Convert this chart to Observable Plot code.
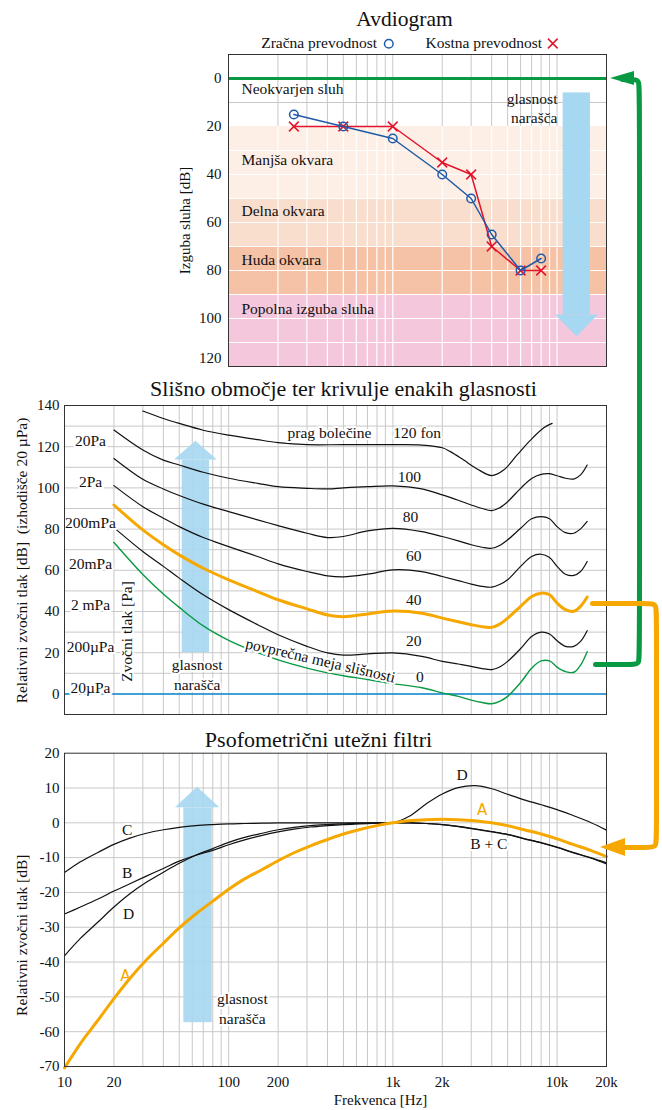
<!DOCTYPE html>
<html><head><meta charset="utf-8">
<script src="https://cdn.jsdelivr.net/npm/d3@7"></script>
<script src="https://cdn.jsdelivr.net/npm/@observablehq/plot@0.6"></script>
<style>
body{margin:0;background:#fff;}
#root{position:relative;width:662px;height:1110px;overflow:hidden;background:#fff;}
</style></head><body><div id="root"></div>
<script>
// ---------------- Audiogram data ----------------
const audioFreqs = [250, 500, 1000, 2000, 3000, 4000, 6000, 8000];
const airConduction = [15, 20, 25, 40, 50, 65, 80, 75];
const boneConduction = [20, 20, 20, 35, 40, 70, 80, 80];
const bandNames = ["Neokvarjen sluh", "Manjša okvara", "Delna okvara", "Huda okvara", "Popolna izguba sluha"];
const bandFrom = [-10, 20, 50, 70, 90];
const bandTo = [20, 50, 70, 90, 120];
const bandColors = ["#ffffff", "#fdefe6", "#f9ddcd", "#f6c2a6", "#f4c7dc"];
const bandLabelLevel = [4.3, 34, 55.4, 75.5, 96];
const audioYTicks = [0, 20, 40, 60, 80, 100];
const audioGridFreqs = [200, 300, 400, 500, 600, 700, 800, 900, 1000, 2000, 3000, 4000, 5000, 6000, 7000, 8000, 9000, 10000];

// ---------------- Equal-loudness contours ----------------
const contourFreqs = [20, 30, 40, 50, 70, 100, 150, 200, 300, 400, 500, 700, 1000, 1500, 2000, 2500, 3000, 3500, 4000, 4500, 5000, 6000, 7000, 8000, 9000, 10000, 11250, 12650, 13900, 15250];
const phon100 = [128.1, 118.4, 113.5, 111.1, 107.6, 104.7, 102.2, 100.6, 99.8, 99.5, 100, 100.6, 101, 99.5, 96.6, 94, 91.7, 90, 89, 90.5, 93.3, 99.8, 104.6, 106.6, 106.9, 105.9, 104.7, 104.3, 106.3, 111.1];
const phon80 = [114.3, 104.2, 99.5, 96.3, 92.1, 88.5, 84.5, 81.7, 78, 75.9, 76.4, 79.1, 80.4, 78.8, 76.4, 74.3, 72.4, 71.2, 70.7, 72.2, 74.8, 80.4, 85, 86.1, 85, 81.2, 78.3, 78, 80.1, 83.7];
const phon60 = [101.1, 90.9, 85.3, 81.2, 75.9, 71.5, 66.7, 63.1, 59.4, 57.3, 56.8, 58.1, 60.2, 59.4, 57, 55, 53.3, 52.2, 51.8, 53.2, 55.4, 61.9, 66.7, 67.8, 66.2, 61.9, 58.1, 57.5, 59.4, 64.3];
const phon40 = [91.7, 79.6, 72.4, 67.5, 61, 55.4, 49.7, 45.7, 41.3, 38.3, 37.5, 38.8, 40.2, 39.2, 36.8, 35, 33.6, 32.6, 32.3, 34, 36.8, 42.5, 47.3, 48.9, 48.1, 44.1, 40.9, 40.1, 42.5, 47];
const phon20 = [80.7, 69.1, 61.9, 56.2, 48.1, 40.9, 33.6, 28.7, 23.1, 19.9, 18.8, 19.4, 19.9, 18.2, 15.8, 14.5, 13.4, 12.3, 11.8, 13.2, 15.8, 22, 27.9, 30, 29.1, 25.8, 23.1, 23.1, 25.5, 30.7];
const hearingThreshold = [73.5, 58, 48.5, 42, 33, 26, 20, 16.5, 12.5, 10.2, 8.8, 7, 5, 3, 0.5, -1.2, -3, -4.2, -4.8, -3.5, -1.2, 5.5, 12.5, 16, 16, 13, 10.8, 10.5, 14, 20.5];
const painFreqs = [30, 40, 50, 70, 100, 150, 200, 300, 500, 1000, 1500, 2000, 2240, 2700, 3260, 4000, 4730, 5710, 6890, 8300, 9330];
const painThreshold = [137.3, 133.7, 131.3, 128, 125.6, 123.4, 122, 121, 121, 121, 120.8, 119.5, 117.6, 113.5, 109.2, 106, 108.7, 116, 123.2, 129.2, 131.3];
const paLabels = ["20Pa", "2Pa", "200mPa", "20mPa", "2 mPa", "200µPa", "20µPa"];
const paLevels = [120, 100, 80, 60, 40, 20, 0];
const contourLabelText = ["120 fon", "100", "80", "60", "40", "20", "0"];
const contourLabelFreq = [1406, 1262, 1280, 1340, 1340, 1340, 1459];
const contourLabelLevel = [126.5, 105.5, 86.1, 67, 45.7, 25.8, 8.1];
const middleYTicks = [0, 20, 40, 60, 80, 100, 120, 140];
const levelGridMiddle = [0, 10, 20, 30, 40, 50, 60, 70, 80, 90, 100, 110, 120, 130];
const gridFreqs = [20, 30, 40, 50, 60, 70, 80, 90, 100, 200, 300, 400, 500, 600, 700, 800, 900, 1000, 2000, 3000, 4000, 5000, 6000, 7000, 8000, 9000, 10000];

// ---------------- Weighting filters ----------------
const weightFreqs = [10, 12.5, 16, 20, 25, 31.5, 40, 50, 63, 80, 100, 125, 160, 200, 250, 315, 400, 500, 630, 800, 1000, 1250, 1600, 2000, 2500, 3150, 4000, 5000, 6300, 8000, 10000, 12500, 16000, 20000];
const weightA = [-70.4, -63.4, -56.7, -50.5, -44.7, -39.4, -34.6, -30.2, -26.2, -22.5, -19.1, -16.1, -13.4, -10.9, -8.6, -6.6, -4.8, -3.2, -1.9, -0.8, 0, 0.6, 0.9, 1.0, 0.9, 0.6, 0.0, -0.8, -2.0, -3.2, -4.6, -6.2, -7.9, -9.7];
const weightB = [-38.2, -33.2, -28.5, -24.2, -20.4, -17.1, -14.2, -11.6, -9.3, -7.4, -5.6, -4.2, -3.0, -2.0, -1.3, -0.8, -0.5, -0.3, -0.1, 0, 0, 0, -0.2, -0.5, -1.0, -1.7, -2.5, -3.3, -4.5, -5.7, -7.0, -8.5, -10.0, -11.5];
const weightC = [-14.3, -11.2, -8.5, -6.2, -4.4, -3.0, -2.0, -1.3, -0.8, -0.5, -0.3, -0.2, -0.1, 0, 0, 0, 0, 0, 0, 0, 0, 0, -0.2, -0.5, -1.1, -1.8, -2.6, -3.4, -4.6, -5.8, -7.1, -8.6, -10.1, -11.8];
const weightD = [-26.2, -24.2, -21.9, -19.6, -17.5, -15.3, -13.1, -11.0, -9.3, -7.9, -6.3, -4.9, -3.6, -2.6, -1.8, -1.2, -0.8, -0.5, -0.3, -0.1, 0, 1.8, 5.5, 8.3, 10.1, 10.7, 9.8, 8.2, 6.6, 5.2, 3.8, 2.1, 0.1, -2.1];
const weightLabelText = ["C", "B", "D", "D", "B + C"];
const weightLabelFreq = [24.1, 24.1, 24.6, 2642, 3840];
const weightLabelLevel = [-2.0, -14.5, -26.1, 13.6, -6.0];
const aLabelFreq = [23.5, 3500];
const aLabelLevel = [-44.2, 3.5];
const bottomYTicks = [20, 10, 0, -10, -20, -30, -40, -50, -60, -70];
const levelGridBottom = [10, 0, -10, -20, -30, -40, -50, -60];
const xTickValues = [10, 20, 50, 100, 200, 500, 1000, 2000, 5000, 10000, 20000];
const xTickLabels = ["10", "20", "50", "100", "200", "500", "1k", "2k", "5k", "10k", "20k"];

// ---------------- Annotation arrows (data units of each panel) ----------------
const audioArrow = {x1: 10895, x2: 15970, y1: 6, y2: 98.5, headX: [9778, 13220, 17870], base: 98.5, tip: 107.6};
const middleArrow = {x1: 52.1, x2: 76.4, y1: 20, y2: 113.5, headX: [46.8, 63.1, 85.1], base: 113.5, tip: 122.7};
const bottomArrow = {x1: 53.3, x2: 79.4, y1: -57.4, y2: 4.3, headX: [47.4, 64.6, 88.3], base: 4.3, tip: 10.2};
// connectors in page pixels
const greenConnectorX = [595, 629, 639, 639, 639, 639, 629, 622];
const greenConnectorY = [664, 664, 664, 654, 89, 79, 79, 79];
const greenHeadX = [610, 634];
const greenHeadY1 = [78, 71];
const greenHeadY2 = [78, 85];
const orangeConnectorX = [592, 646, 656, 656, 656, 656, 646, 620];
const orangeConnectorY = [603, 603, 603, 613, 837, 847, 847, 847];
const orangeHeadX = [600, 625];
const orangeHeadY1 = [847, 838];
const orangeHeadY2 = [847, 856];

// ---------------- Styles ----------------
const W = 662;
const serif = "'Liberation Serif','Times New Roman',serif";
const gridColor = "#c8c8c8";
const green = "#089a42";
const orange = "#f6a800";
const lightBlue = "#a7d8f1";
const blueAir = "#1f5aa8";
const redBone = "#e2142a";
const ink = "#111";
const baseStyle = {fontFamily: serif, fontSize: "15px", background: "transparent", overflow: "visible", color: ink};
const root = document.getElementById("root");
function place(el, top) {
  el.style.position = "absolute"; el.style.left = "0px"; el.style.top = top + "px";
  root.appendChild(el);
}
function arrowMarks(a, opacity = 1) {
  const head = a.headX.map((x, i) => ({x, y1: a.base, y2: i === 1 ? a.tip : a.base}));
  return [
    Plot.rect([a], {x1: "x1", x2: "x2", y1: "y1", y2: "y2", fill: lightBlue, fillOpacity: opacity}),
    Plot.areaY(head, {x: "x", y1: "y1", y2: "y2", fill: lightBlue, fillOpacity: opacity, curve: "linear"})
  ];
}
const halo = {fill: ink, stroke: "white", strokeWidth: 4, paintOrder: "stroke"};
const label = (s, opts) => Plot.text([s], {text: d => d, textAnchor: "middle", lineAnchor: "middle", ...opts});

// ---------------- Audiogram ----------------
const audioRows = audioFreqs.map((f, i) => ({f, air: airConduction[i], bone: boneConduction[i]}));
const bands = bandNames.map((name, i) => ({name, y1: bandFrom[i], y2: bandTo[i], color: bandColors[i], ly: bandLabelLevel[i]}));

const audiogram = Plot.plot({
  width: W, height: 370,
  marginTop: 54, marginBottom: 4, marginLeft: 228, marginRight: 56,
  style: baseStyle,
  x: {type: "log", domain: [100, 20000], axis: null},
  y: {domain: [-10, 120], reverse: true, axis: null},
  color: {type: "identity"},
  marks: [
    Plot.rect(bands, {y1: "y1", y2: "y2", fill: "color"}),
    Plot.ruleX(audioGridFreqs, {y1: -10, y2: 20, stroke: gridColor}),
    Plot.ruleX(audioGridFreqs, {y1: 20, y2: 120, stroke: "white", strokeWidth: 1.2}),
    Plot.ruleY([10], {stroke: gridColor}),
    Plot.ruleY([30, 40, 50, 60, 70, 80, 90, 100, 110], {stroke: "white", strokeWidth: 1.2}),
    ...arrowMarks(audioArrow),
    label("glasnost\nnarašča", {x: 10056, y: 11.9, textAnchor: "end", lineHeight: 1.27, fontSize: 15.5, fill: ink}),
    Plot.ruleY([0], {stroke: green, strokeWidth: 3}),
    Plot.text(bands, {y: "ly", text: "name", frameAnchor: "left", dx: 13, textAnchor: "start", lineAnchor: "middle", fontSize: 15.5, fill: ink}),
    Plot.line(audioRows, {x: "f", y: "bone", stroke: redBone, strokeWidth: 1.5}),
    Plot.dot(audioRows, {x: "f", y: "bone", symbol: "times", r: 4.5, stroke: redBone, strokeWidth: 1.5}),
    Plot.line(audioRows, {x: "f", y: "air", stroke: blueAir, strokeWidth: 1.5}),
    Plot.dot(audioRows, {x: "f", y: "air", symbol: "circle", r: 4.3, stroke: blueAir, fill: "none", strokeWidth: 1.5}),
    Plot.frame({stroke: "#333"}),
    Plot.axisY(audioYTicks, {anchor: "left", tickSize: 0, tickPadding: 7, label: null, fontSize: 15}),
    Plot.axisY([120], {anchor: "left", tickSize: 0, tickPadding: 7, label: null, fontSize: 15, dy: -8}),
    label("Izguba sluha [dB]", {frameAnchor: "top-left", dx: -43, dy: 166, rotate: -90, fontSize: 15, fill: ink}),
    label("Avdiogram", {frameAnchor: "top", dx: -13, dy: -35, fontSize: 21.5, fill: ink}),
    label("Zračna prevodnost", {frameAnchor: "top-left", dx: 32.7, dy: -11.5, textAnchor: "start", fontSize: 15.5, fill: ink}),
    Plot.dot([0], {frameAnchor: "top-left", dx: 160.3, dy: -10.7, r: 4.3, stroke: blueAir, fill: "none", strokeWidth: 1.5}),
    label("Kostna prevodnost", {frameAnchor: "top-left", dx: 197, dy: -11.5, textAnchor: "start", fontSize: 15.5, fill: ink}),
    Plot.dot([0], {frameAnchor: "top-left", dx: 324.3, dy: -11, symbol: "times", r: 4.5, stroke: redBone, strokeWidth: 1.5})
  ]
});
place(audiogram, 0);

// ---------------- Equal loudness ----------------
const contourRows = (vals) => contourFreqs.map((f, i) => ({f, v: vals[i]}));
const painRows = painFreqs.map((f, i) => ({f, v: painThreshold[i]}));
const paRows = paLabels.map((t, i) => ({t, v: paLevels[i]}));
const cLabelRows = contourLabelText.map((t, i) => ({t, f: contourLabelFreq[i], v: contourLabelLevel[i]}));
const curve = {x: "f", y: "v", stroke: ink, strokeWidth: 1.2, curve: "catmull-rom"};

const middle = Plot.plot({
  width: W, height: 356,
  marginTop: 39, marginBottom: 8, marginLeft: 64, marginRight: 56,
  style: baseStyle,
  x: {type: "log", domain: [10, 20000], axis: null},
  y: {domain: [-10, 140], axis: null},
  marks: [
    Plot.ruleX(gridFreqs, {stroke: gridColor}),
    Plot.ruleY(levelGridMiddle, {stroke: gridColor}),
    ...arrowMarks(middleArrow, 0.92),
    Plot.ruleY([0], {stroke: "#0a8ad2", strokeWidth: 1.5}),
    Plot.line(painRows, curve),
    Plot.line(contourRows(phon100), curve),
    Plot.line(contourRows(phon80), curve),
    Plot.line(contourRows(phon60), curve),
    Plot.line(contourRows(phon20), curve),
    Plot.line(contourRows(hearingThreshold), {...curve, stroke: green, strokeWidth: 1.4}),
    Plot.line(contourRows(phon40), {...curve, stroke: orange, strokeWidth: 3}),
    Plot.text(paRows, {y: "v", text: "t", frameAnchor: "left", dx: 26, dy: -6, textAnchor: "middle", lineAnchor: "middle", fontSize: 15.5, ...halo}),
    Plot.text(cLabelRows, {x: "f", y: "v", text: "t", fontSize: 15.5, ...halo}),
    label("prag bolečine", {x: 411, y: 126.5, fontSize: 15.5, ...halo}),
    label("povprečna meja slišnosti", {x: 362, y: 16.2, rotate: 13, fontSize: 15.5, ...halo}),
    label("glasnost\nnarašča", {x: 64.3, y: 9.9, lineHeight: 1.27, fontSize: 15.5, ...halo}),
    label("Zvočni tlak [Pa]", {frameAnchor: "top-left", dx: 63, dy: 226, rotate: -90, fontSize: 15.5, ...halo}),
    Plot.frame({stroke: "#333"}),
    Plot.axisY(middleYTicks, {anchor: "left", tickSize: 0, tickPadding: 5, label: null, fontSize: 15}),
    label("Relativni zvočni tlak [dB]\u00a0\u00a0(izhodišče 20\u00a0µPa)", {frameAnchor: "top-left", dx: -42, dy: 155, rotate: -90, fontSize: 15.5, fill: ink}),
    label("Slišno območje ter krivulje enakih glasnosti", {frameAnchor: "top", dx: 8, dy: -17, fontSize: 22, fill: ink})
  ]
});
place(middle, 366);

// ---------------- Weighting filters ----------------
const wRows = (vals) => weightFreqs.map((f, i) => ({f, v: vals[i]}));
const wLabelRows = weightLabelText.map((t, i) => ({t, f: weightLabelFreq[i], v: weightLabelLevel[i]}));
const aLabelRows = aLabelFreq.map((f, i) => ({t: "A", f, v: aLabelLevel[i]}));
const xLabelMap = new Map(xTickValues.map((v, i) => [v, xTickLabels[i]]));

const bottom = Plot.plot({
  width: W, height: 388,
  marginTop: 30.7, marginBottom: 44, marginLeft: 64, marginRight: 56,
  style: baseStyle,
  x: {type: "log", domain: [10, 20000], axis: null},
  y: {domain: [-70, 20], axis: null},
  marks: [
    Plot.ruleX(gridFreqs, {stroke: gridColor}),
    Plot.ruleY(levelGridBottom, {stroke: gridColor}),
    ...arrowMarks(bottomArrow, 0.92),
    Plot.line(wRows(weightD), curve),
    Plot.line(wRows(weightB), curve),
    Plot.line(wRows(weightC), curve),
    Plot.line(wRows(weightA), {...curve, stroke: orange, strokeWidth: 3}),
    Plot.text(wLabelRows, {x: "f", y: "v", text: "t", fontSize: 15.5, ...halo}),
    Plot.text(aLabelRows, {x: "f", y: "v", text: "t", fontSize: 15, fill: orange, fontFamily: "'DejaVu Sans',sans-serif"}),
    label("glasnost\nnarašča", {x: 121, y: -53.2, lineHeight: 1.27, fontSize: 15.5, ...halo}),
    Plot.frame({stroke: "#333"}),
    Plot.axisY(bottomYTicks, {anchor: "left", tickSize: 0, tickPadding: 5, label: null, fontSize: 15, tickFormat: d => String(d)}),
    Plot.axisX(xTickValues, {anchor: "bottom", tickSize: 0, tickPadding: 10, label: null, fontSize: 15, tickFormat: d => xLabelMap.get(d)}),
    label("Frekvenca [Hz]", {frameAnchor: "bottom", dx: 45, dy: 34, fontSize: 15, fill: ink}),
    label("Relativni zvočni tlak [dB]", {frameAnchor: "top-left", dx: -42, dy: 182, rotate: -90, fontSize: 15.5, fill: ink}),
    label("Psofometrični utežni filtri", {frameAnchor: "top", dx: -17, dy: -13.5, fontSize: 22, fill: ink})
  ]
});
place(bottom, 722);

// ---------------- Connector arrows (page overlay) ----------------
const greenPath = greenConnectorX.map((x, i) => ({x, y: greenConnectorY[i]}));
const orangePath = orangeConnectorX.map((x, i) => ({x, y: orangeConnectorY[i]}));
const greenHead = greenHeadX.map((x, i) => ({x, y1: greenHeadY1[i], y2: greenHeadY2[i]}));
const orangeHead = orangeHeadX.map((x, i) => ({x, y1: orangeHeadY1[i], y2: orangeHeadY2[i]}));
const overlay = Plot.plot({
  width: W, height: 1110, margin: 0,
  style: {background: "transparent", pointerEvents: "none"},
  x: {domain: [0, 662], range: [0, 662], axis: null},
  y: {domain: [0, 1110], range: [0, 1110], axis: null},
  marks: [
    Plot.line(greenPath, {x: "x", y: "y", stroke: green, strokeWidth: 5, curve: "basis"}),
    Plot.areaY(greenHead, {x: "x", y1: "y1", y2: "y2", fill: green, curve: "linear"}),
    Plot.line(orangePath, {x: "x", y: "y", stroke: orange, strokeWidth: 5, curve: "basis"}),
    Plot.areaY(orangeHead, {x: "x", y1: "y1", y2: "y2", fill: orange, curve: "linear"})
  ]
});
place(overlay, 0);
</script></body></html>
